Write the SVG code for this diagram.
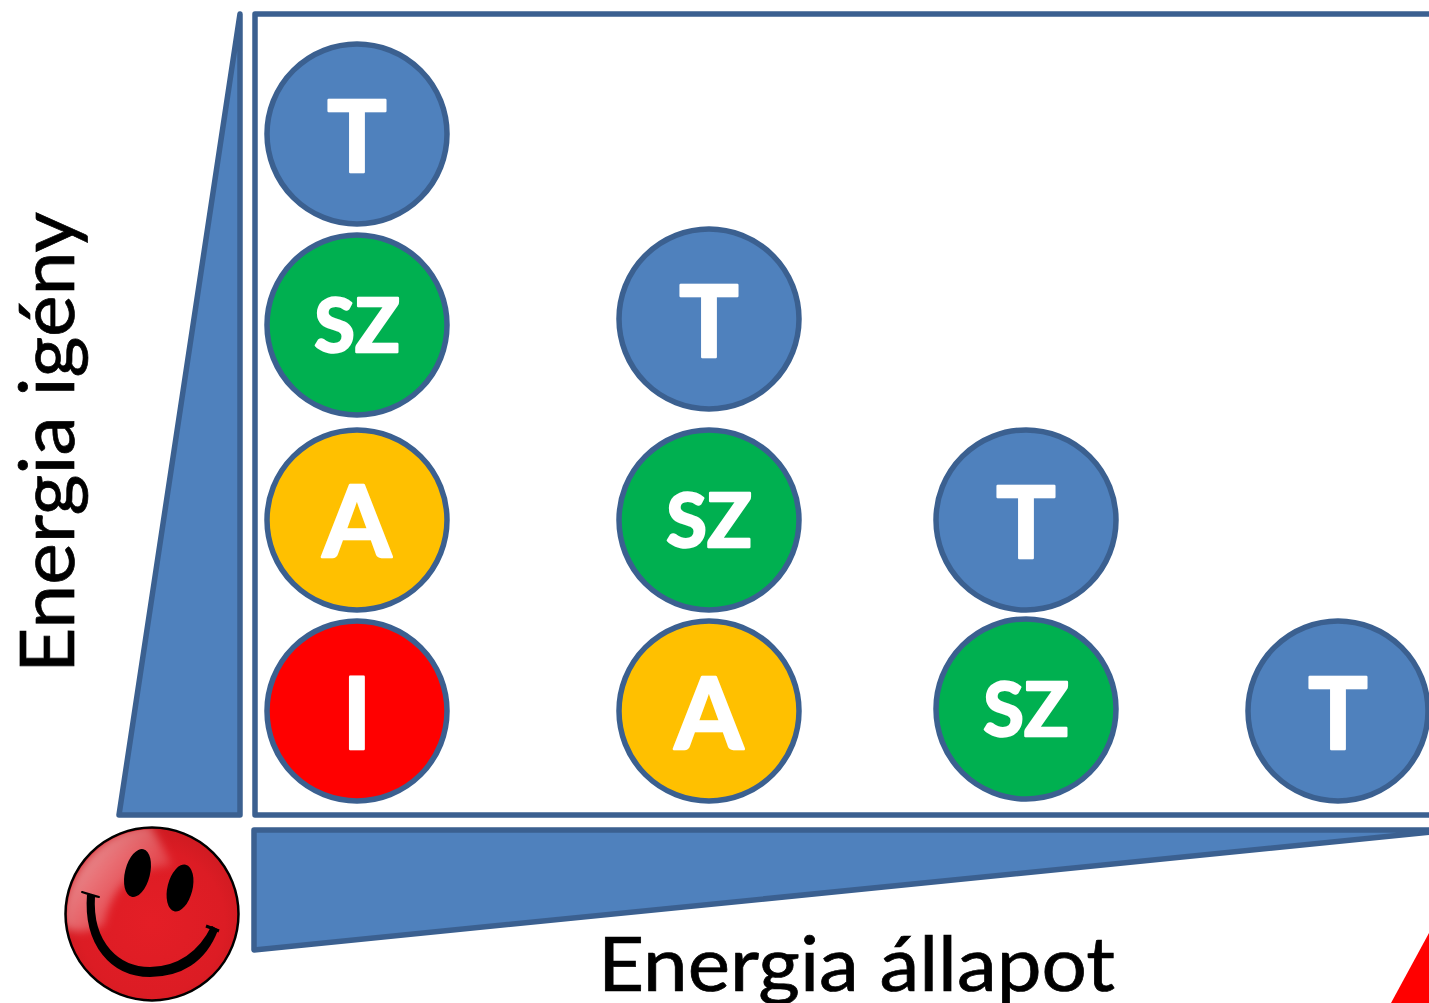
<svg xmlns="http://www.w3.org/2000/svg" width="1429" height="1003" viewBox="0 0 1429 1003">
<defs>
<radialGradient id="face" cx="0.5" cy="0.55" r="0.6"><stop offset="0" stop-color="#e41e26"/><stop offset="0.7" stop-color="#dc1c24"/><stop offset="1" stop-color="#c91a20"/></radialGradient>
<linearGradient id="shine" x1="0.1" y1="0.2" x2="0.9" y2="0.8"><stop offset="0" stop-color="#fff" stop-opacity="0.55"/><stop offset="1" stop-color="#fff" stop-opacity="0.05"/></linearGradient>
<filter id="soft" x="-30%" y="-30%" width="160%" height="160%"><feGaussianBlur stdDeviation="4"/></filter>
<clipPath id="ball"><circle cx="152" cy="914" r="85"/></clipPath>
</defs>
<style>
.b{stroke:#3b6090;stroke-width:5.500;stroke-linejoin:round}
.blue{fill:#4f81bd}.green{fill:#00b050}.amber{fill:#ffc000}.red{fill:#ff0000}
.l{font-family:Lato,"Open Sans",sans-serif;font-weight:700;fill:#fff;stroke:#fff;stroke-width:2.500;stroke-linejoin:round;text-anchor:middle}
.big{font-size:99px}.sz{font-size:74px}
.t{font-family:Lato,"Open Sans",sans-serif;font-size:75px;fill:#000;stroke:#000;stroke-width:0.700}
</style>
<rect width="1429" height="1003" fill="#fff"/>
<g id="frame"><path class="b" d="M1432 14H255V815H1432" fill="none"/></g>
<g id="y-wedge"><path class="b blue" d="M240 14V815H119Z"/></g>
<g id="x-wedge"><path class="b blue" d="M254 830H1432V832L254 950Z"/></g>
<g id="n1"><circle class="b blue" cx="357" cy="134" r="90"/><text class="l big" x="357" y="172">T</text></g>
<g id="n2"><circle class="b green" cx="357" cy="325" r="90"/><text class="l sz" x="357" y="352">SZ</text></g>
<g id="n3"><circle class="b amber" cx="357" cy="520" r="90"/><text class="l big" x="357" y="557">A</text></g>
<g id="n4"><circle class="b red" cx="357" cy="711" r="90"/><text class="l big" x="357" y="749">I</text></g>
<g id="n5"><circle class="b blue" cx="709" cy="319" r="90"/><text class="l big" x="709" y="357">T</text></g>
<g id="n6"><circle class="b green" cx="709" cy="520" r="90"/><text class="l sz" x="709" y="547">SZ</text></g>
<g id="n7"><circle class="b amber" cx="709" cy="711" r="90"/><text class="l big" x="709" y="749">A</text></g>
<g id="n8"><circle class="b blue" cx="1026" cy="520" r="90"/><text class="l big" x="1026" y="558">T</text></g>
<g id="n9"><circle class="b green" cx="1026" cy="709" r="90"/><text class="l sz" x="1026" y="736">SZ</text></g>
<g id="n10"><circle class="b blue" cx="1338" cy="711" r="90"/><text class="l big" x="1338" y="749">T</text></g>
<g id="smiley">
<circle cx="152" cy="914" r="86.500" fill="url(#face)" stroke="#000" stroke-width="2.500"/>
<g clip-path="url(#ball)"><path d="M62 925C62 870 110 825 150 825C160 842 168 856 172 866C135 866 112 885 104 925C90 932 72 935 62 925Z" fill="url(#shine)" filter="url(#soft)"/></g>
<ellipse cx="137.500" cy="873" rx="12.500" ry="24.500" transform="rotate(14 137.500 873)"/>
<ellipse cx="180" cy="888" rx="12.500" ry="24" transform="rotate(14 180 888)"/>
<path d="M82 892L99 897L94 896C91 945 120 968 150 968C178 968 200 952 212 927L217 930C205 962 180 976 150 976C112 976 84 945 88 894Z" stroke="#000" stroke-width="2" stroke-linejoin="round"/>
<path d="M206 926L219 931" stroke="#000" stroke-width="3"/>
</g>
<g id="labels">
<text class="t" transform="translate(74 673) rotate(-90)" textLength="461" lengthAdjust="spacingAndGlyphs">Energia igény</text>
<text class="t" x="598" y="991" textLength="517" lengthAdjust="spacingAndGlyphs">Energia állapot</text>
</g>
<path id="corner" class="red" d="M1429 933V1003H1391Z"/>
</svg>
